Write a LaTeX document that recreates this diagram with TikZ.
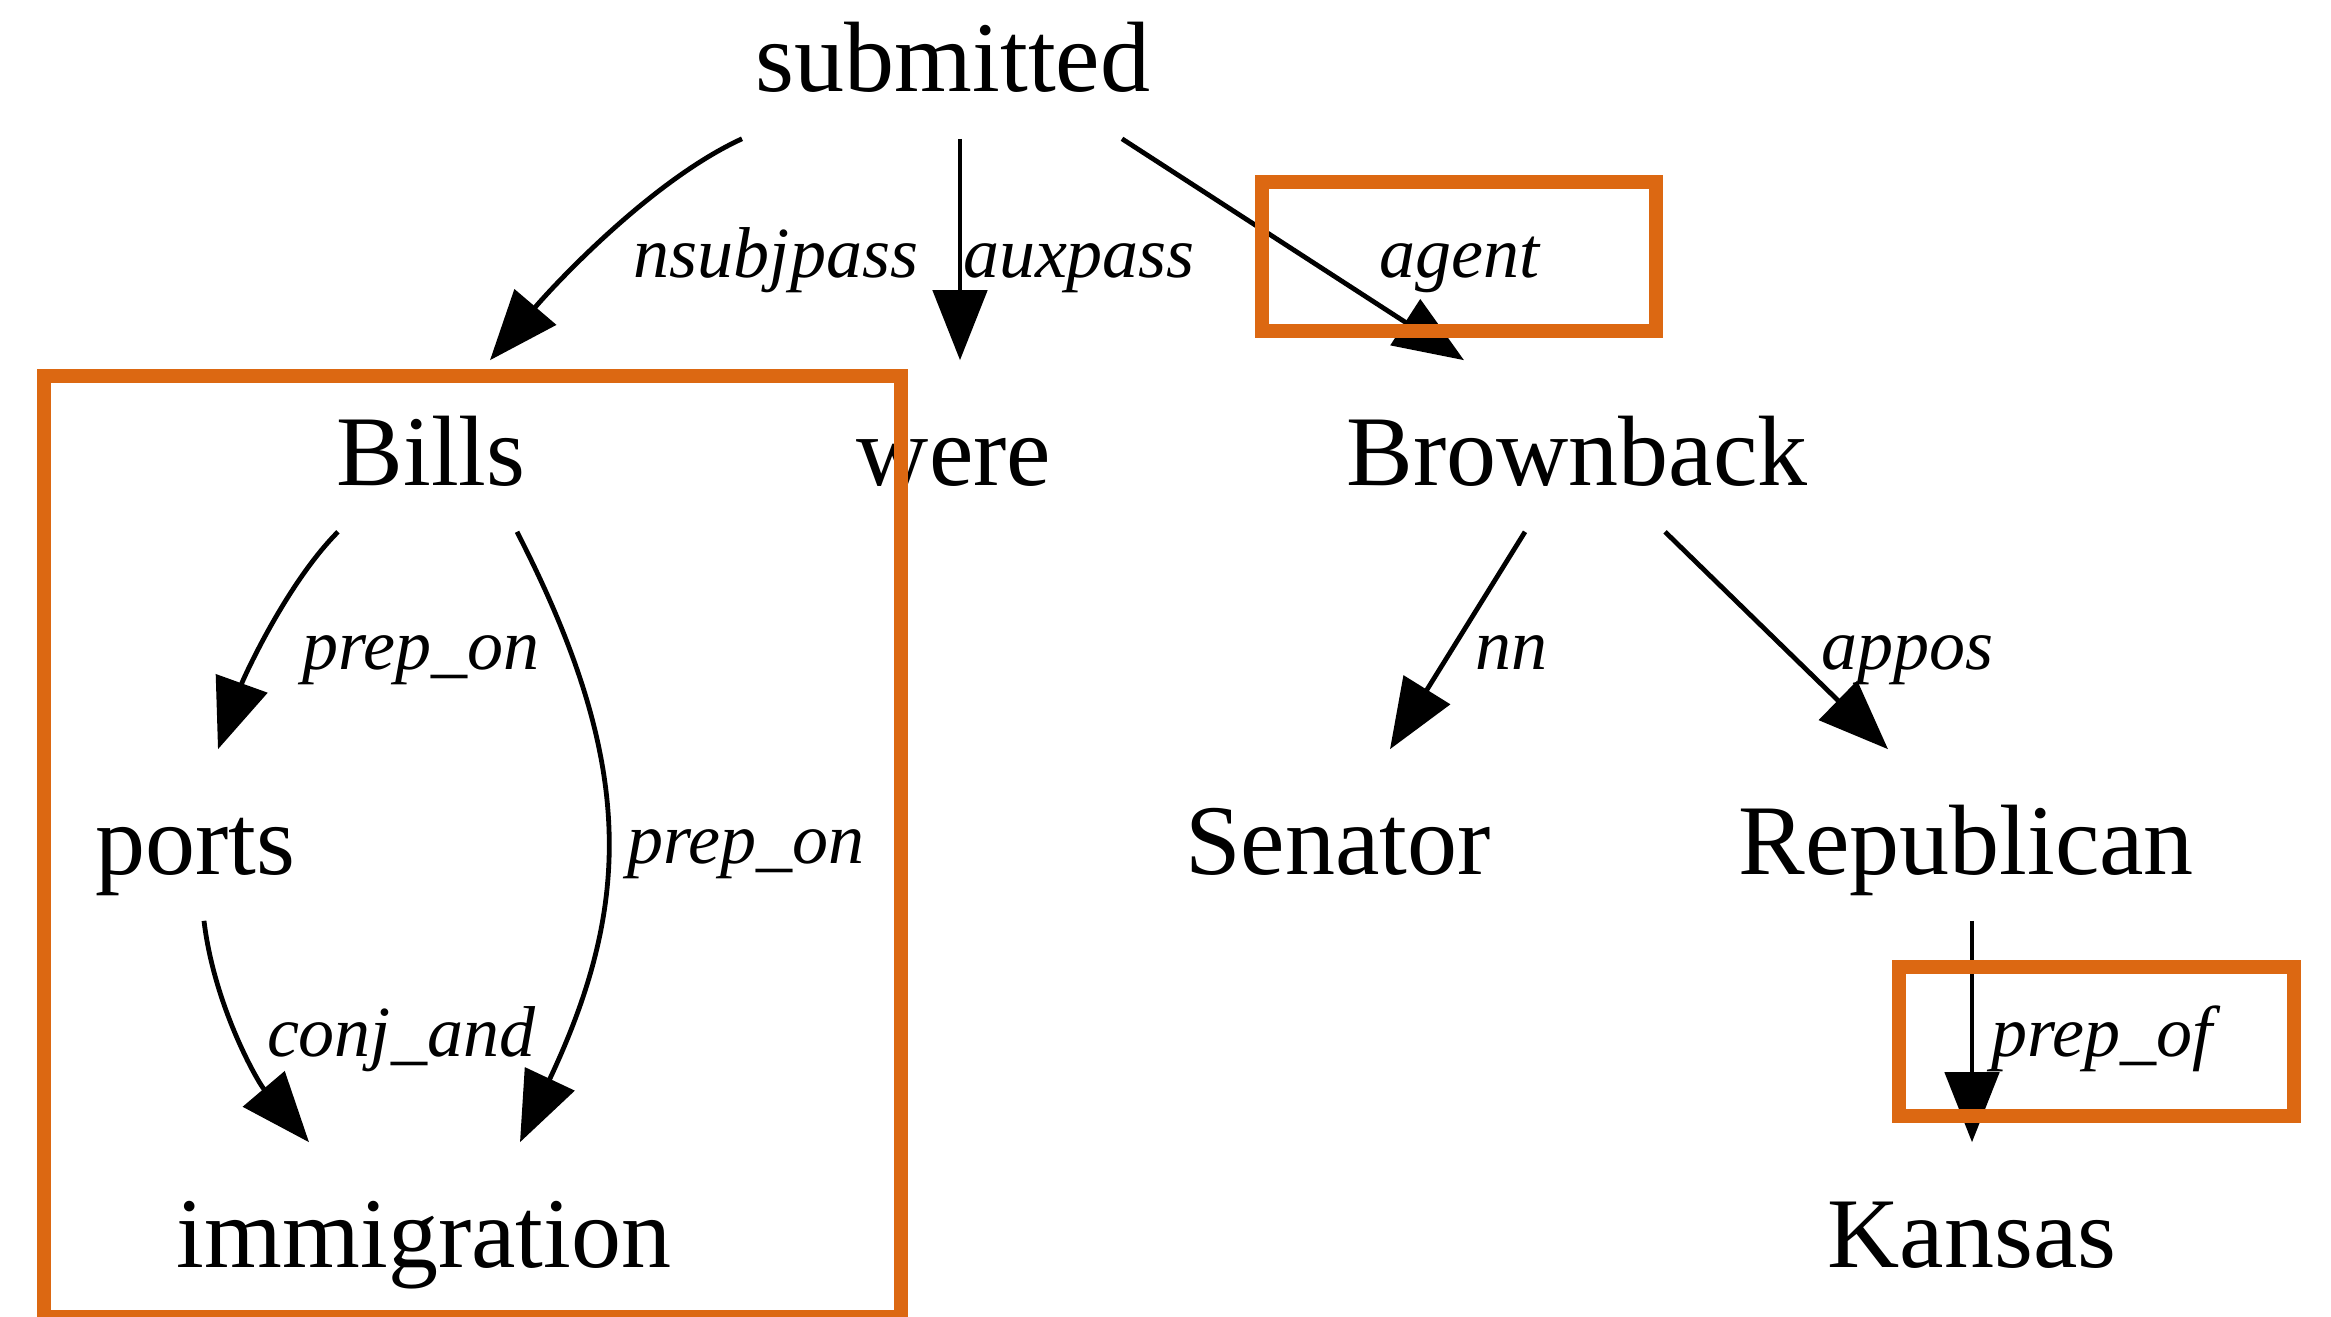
\documentclass[tikz,border=0pt]{standalone}
\usepackage{fontspec}
\setmainfont{Liberation Serif}
\usetikzlibrary{arrows.meta}
\definecolor{hl}{RGB}{220,104,18}
\newcommand\wordfont{\fontsize{25}{30}\selectfont}
\newcommand\relfont{\fontsize{18}{22}\selectfont\itshape}
\begin{document}
\begin{tikzpicture}[x=0.25pt,y=-0.25pt,
  word/.style={font=\wordfont, text height=31pt, text depth=11.5pt,
               inner xsep=4pt, inner ysep=0pt, anchor=base},
  rel/.style={font=\relfont, anchor=base, inner sep=0pt},
  dep/.style={line width=1.2pt, -{Triangle[length=17.5pt,width=13.5pt]}},
  hilite/.style={draw=hl, line width=3.33pt}]
\useasboundingbox (0,0) rectangle (2331,1316);

% words of the sentence
\node[word] (submitted)   at (953,92)    {submitted};
\node[word] (bills)       at (431,485)   {Bills};
\node[word] (were)        at (954,485)   {were};
\node[word] (brownback)   at (1577,485)  {Brownback};
\node[word] (ports)       at (195,874)   {ports};
\node[word] (senator)     at (1338,874)  {Senator};
\node[word] (republican)  at (1966,874)  {Republican};
\node[word] (immigration) at (424,1267)  {immigration};
\node[word] (kansas)      at (1972,1267) {Kansas};

% dependency arcs
\draw[dep] ([xshift=-52.75pt]submitted.south) .. controls (652,180) and (555,284) .. ([xshift=14.75pt]bills.north);
\draw[dep] ([xshift=1.75pt]submitted.south) -- ([xshift=1.5pt]were.north);
\draw[dep] ([xshift=42.25pt]submitted.south) -- ([xshift=-28.25pt]brownback.north);
\draw[dep] ([xshift=-23.25pt]bills.south) .. controls (287,583) and (244,677) .. ([xshift=5.75pt]ports.north);
\draw[dep] ([xshift=21.5pt]bills.south) .. controls (634,760) and (634,900) .. ([xshift=24pt]immigration.north);
\draw[dep] ([xshift=2.25pt]ports.south) .. controls (214,1005) and (257,1081) .. ([xshift=-28.75pt]immigration.north);
\draw[dep] ([xshift=-13pt]brownback.south) -- ([xshift=13pt]senator.north);
\draw[dep] ([xshift=22pt]brownback.south) -- ([xshift=-19.5pt]republican.north);
\draw[dep] ([xshift=1.5pt]republican.south) -- ([xshift=0pt]kansas.north);

% relation labels
\node[rel] (l-nsubjpass) at (776,277)   {nsubjpass};
\node[rel] (l-auxpass)   at (1079,277)  {auxpass};
\node[rel] (l-agent)     at (1459,277)  {agent};
\node[rel] (l-prepon1)   at (421,669)   {prep\_on};
\node[rel] (l-prepon2)   at (746,863)   {prep\_on};
\node[rel] (l-conjand)   at (401,1056)  {conj\_and};
\node[rel] (l-nn)        at (1511,669)  {nn};
\node[rel] (l-appos)     at (1907,669)  {appos};
\node[rel] (l-prepof)    at (2102,1056) {prep\_of};

% highlight frames
\draw[hilite] (44,376) rectangle (901,1317);
\draw[hilite] (1262,182) rectangle (1656,331);
\draw[hilite] (1899,967) rectangle (2294,1116);
\end{tikzpicture}
\end{document}
